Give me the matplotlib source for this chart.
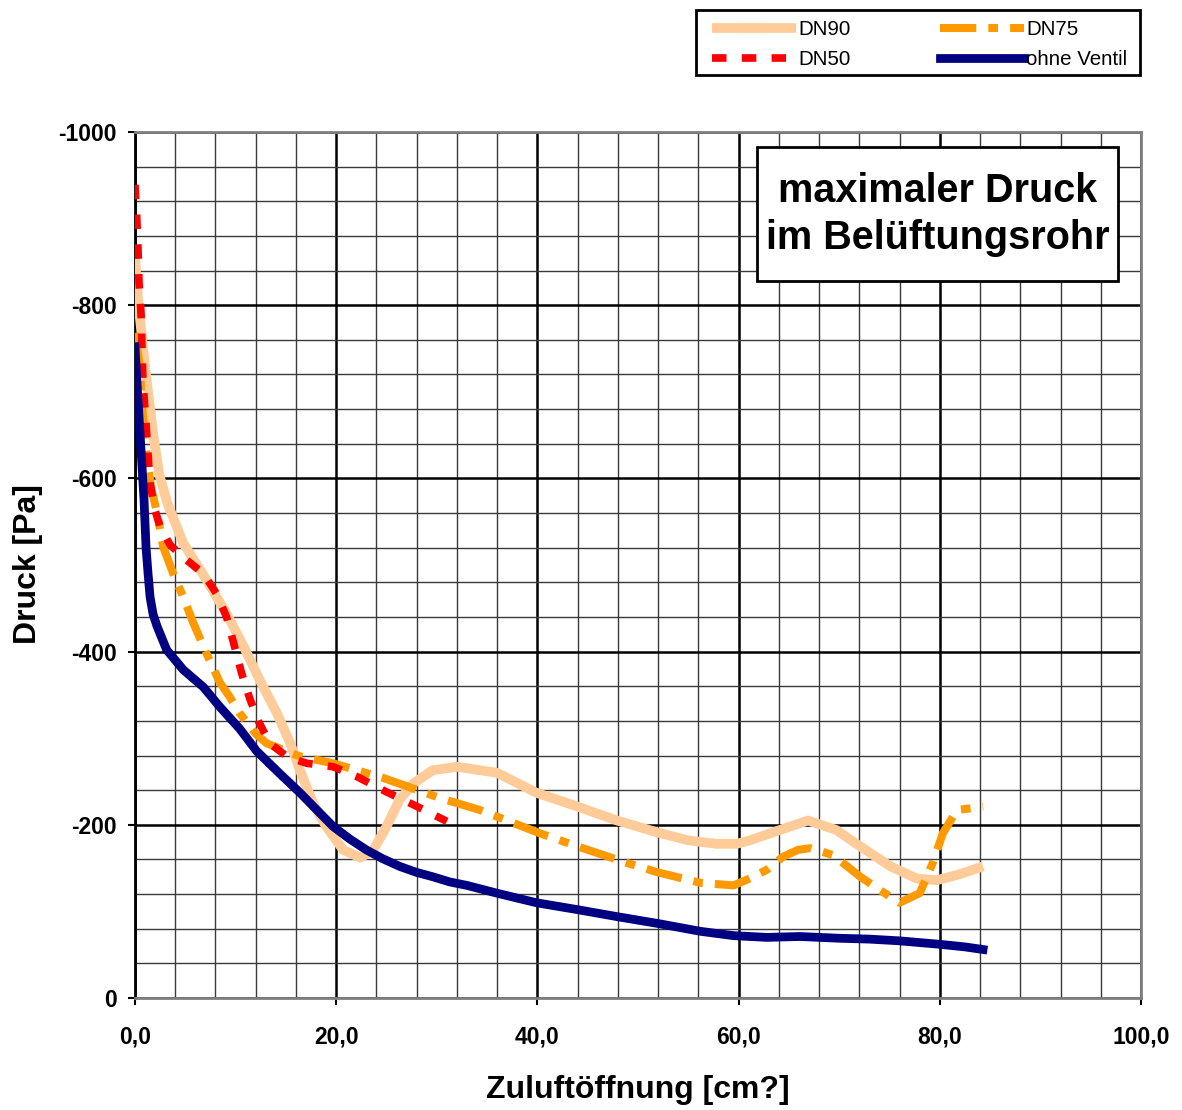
import matplotlib
matplotlib.use("Agg")
import matplotlib.pyplot as plt
from matplotlib.patches import Rectangle
from matplotlib.ticker import MultipleLocator, FixedLocator, FixedFormatter

plt.rcParams["font.family"] = ["Liberation Sans", "DejaVu Sans"]

# DN90
dn90_x = [0, 0.3, 1.0, 1.8, 2.4, 3.2, 4.8, 7.1, 9.1, 10.8, 12.4, 14.1, 15.4, 16.4,
          17.7, 19.0, 20.7, 22.4, 23.7, 25.0, 26.3, 27.7, 29.6, 32.0, 36.0, 39.9,
          44.0, 47.9, 52.0, 55.0, 57.8, 59.8, 61.1, 64.1, 66.9, 69.7, 72.1, 75.1,
          77.7, 79.7, 81.7, 84.3]
dn90_y = [-856, -806, -729, -652, -605, -572, -525, -483, -444, -406, -367, -329,
          -295, -263, -225, -198, -171, -162, -171, -198, -229, -248, -263, -267,
          -260, -237, -221, -205, -191, -182, -178, -178, -182, -194, -205, -194,
          -175, -152, -138, -136, -142, -152]

# DN75
dn75_x = [0, 0.5, 0.66, 1.2, 1.65, 2.2, 2.8, 3.8, 4.8, 5.8, 7.1, 8.45, 9.4, 10.4,
          12.0, 13.1, 16.4, 19.7, 24.7, 30.3, 34.3, 40.3, 44.0, 48.9, 52.0, 56.2,
          59.5, 61.1, 62.8, 64.4, 65.9, 67.1, 69.4, 72.1, 74.0, 76.0, 78.0, 79.3,
          80.3, 81.7, 84.3]
dn75_y = [-768, -729, -690, -621, -587, -560, -521, -490, -463, -433, -398, -364,
          -348, -329, -305, -294, -279, -271, -254, -231, -217, -190, -175, -156,
          -145, -133, -130, -138, -148, -163, -171, -173, -165, -140, -125, -110,
          -121, -156, -190, -217, -221]

# DN50
dn50_x = [0, 0.17, 0.3, 0.4, 0.6, 0.7, 0.8, 1.0, 1.5, 2.0, 2.5, 3.5, 5.1, 6.8,
          8.1, 9.1, 9.8, 10.6, 11.4, 12.3, 13.4, 15.2, 17.1, 19.7, 22.0, 25.0,
          27.7, 31.0]
dn50_y = [-939, -902, -866, -826, -791, -748, -711, -679, -594, -563, -544, -523,
          -506, -490, -467, -440, -410, -375, -346, -319, -294, -278, -271, -267,
          -256, -238, -223, -204]

# ohne Ventil
ov_x = [0, 0.25, 0.5, 0.9, 1.1, 1.3, 1.5, 1.8, 2.2, 3.15, 4.8, 6.8, 8.45, 10.4,
        12.1, 14.4, 16.4, 18.0, 19.7, 21.3, 23.0, 24.6, 26.3, 28.0, 29.6, 31.3,
        33.0, 36.0, 39.9, 44.0, 47.9, 52.0, 56.2, 59.5, 62.8, 66.1, 70.0, 73.0,
        76.0, 80.0, 82.5, 84.3]
ov_y = [-752, -700, -652, -575, -520, -490, -463, -443, -429, -402, -379, -359,
        -336, -311, -285, -259, -237, -218, -198, -184, -171, -161, -152, -145,
        -140, -134, -130, -121, -110, -102, -94, -86, -77, -72, -70, -71, -69,
        -68, -66, -62, -59, -56]

x_ticks = [0, 20, 40, 60, 80, 100]
y_ticks = [0, -200, -400, -600, -800, -1000]

fig = plt.figure(figsize=(11.82, 11.10), dpi=100, facecolor="white")
ax = fig.add_axes([0.1142, 0.1009, 0.8511, 0.7802])

h90, = ax.plot(dn90_x, dn90_y, color="#FFCC99", lw=7, solid_capstyle="butt",
               solid_joinstyle="round", label="DN90", zorder=3)
h75, = ax.plot(dn75_x, dn75_y, color="#FF9900", lw=5.8, linestyle=(0, (4.5, 1.5, 1.2, 1.5)),
               dash_capstyle="butt", dash_joinstyle="round", label="DN75", zorder=4)
h50, = ax.plot(dn50_x, dn50_y, color="#FF0000", lw=5.5, linestyle=(0, (1.9, 2.0)),
               dash_capstyle="butt", dash_joinstyle="round", label="DN50", zorder=5)
hov, = ax.plot(ov_x, ov_y, color="#000080", lw=6.3, solid_joinstyle="round",
               label="ohne Ventil", zorder=6)

ax.set_xlim(0, 100)
ax.set_ylim(0, -1000)

ax.xaxis.set_major_locator(FixedLocator(x_ticks))
ax.xaxis.set_major_formatter(FixedFormatter([f"{v:.1f}".replace(".", ",") for v in x_ticks]))
ax.yaxis.set_major_locator(FixedLocator(y_ticks))
ax.yaxis.set_major_formatter(FixedFormatter([str(v) for v in y_ticks]))
ax.xaxis.set_minor_locator(MultipleLocator(4))
ax.yaxis.set_minor_locator(MultipleLocator(40))

ax.grid(which="major", color="black", lw=1.8, zorder=1)
ax.grid(which="minor", color="#3a3a3a", lw=1.0, zorder=1)
ax.set_axisbelow(True)

ax.tick_params(which="major", direction="out", length=5, width=1.5, labelsize=16.5)
ax.tick_params(axis="y", pad=8)
ax.tick_params(axis="x", pad=15)
ax.tick_params(which="minor", length=0)
for lab in ax.get_xticklabels() + ax.get_yticklabels():
    lab.set_fontweight("bold")

for side in ["top", "right", "bottom"]:
    ax.spines[side].set_color("#808080")
    ax.spines[side].set_linewidth(2)
ax.spines["left"].set_color("black")
ax.spines["left"].set_linewidth(2)

fig.text(0.540, 0.018, "Zuluftöffnung [cm?]", ha="center", va="center",
         fontsize=23, fontweight="bold")
fig.text(0.0237, 0.4919, "Druck [Pa]", ha="center", va="center", rotation=90,
         fontsize=23, fontweight="bold")

# title box inside the plot
ax.add_patch(Rectangle((0.618, 0.828), 0.359, 0.1547, transform=ax.transAxes,
                       facecolor="white", edgecolor="black", lw=2, zorder=7))
ax.text(0.7977, 0.905, "maximaler Druck\nim Belüftungsrohr", transform=ax.transAxes,
        ha="center", va="center", fontsize=28.5, fontweight="bold",
        linespacing=1.3, zorder=8)

# legend without its own frame, box drawn separately
leg = fig.legend([h90, h50, h75, hov], ["DN90", "DN50", "DN75", "ohne Ventil"],
                 ncol=2, loc="upper left", bbox_to_anchor=(712 / 1182, 1 - 20 / 1110),
                 frameon=False, handlelength=4.1, handletextpad=0.1, borderpad=0,
                 labelspacing=0.55, columnspacing=4.35, borderaxespad=0,
                 fontsize=14.8)
fig.add_artist(Rectangle((696 / 1182, 1 - 75 / 1110), 444 / 1182, 65 / 1110,
                         transform=fig.transFigure, fill=False, edgecolor="black", lw=2))

fig.savefig("out.png", dpi=100, facecolor="white")
